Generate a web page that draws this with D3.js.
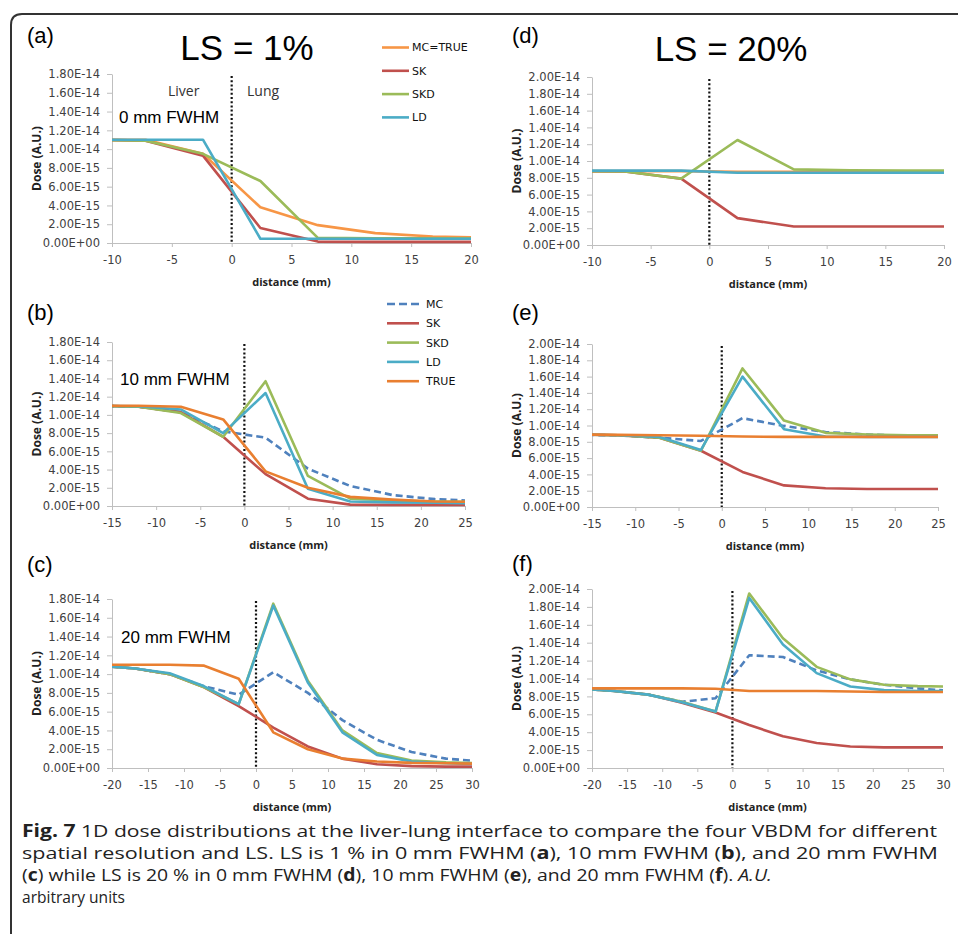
<!DOCTYPE html>
<html>
<head>
<meta charset="utf-8">
<script src="https://cdn.jsdelivr.net/npm/d3@7"></script>
<style>
  body { margin: 0; background: #fff; }
  svg { display: block; }
  .tick text { font-family: 'DejaVu Sans', sans-serif; font-size: 11.5px; fill: #404040; }
  .domain, .tick line { stroke: #bfbfbf; }
</style>
</head>
<body>
<svg id="chart" width="958" height="934"></svg>
<script>
// dose values are in units of 1E-15 (A.U.)
const UNIT = 1e-15;

// sample positions (mm), voxel centres
const xGrid10 = [-12, -7.2, -2.4, 2.4, 7.2, 12, 16.8, 21.6];
const xGrid15 = [-16.8, -12, -7.2, -2.4, 2.4, 7.2, 12, 16.8, 21.6, 26.4];
const xGrid20 = [-21.6, -16.8, -12, -7.2, -2.4, 2.4, 7.2, 12, 16.8, 21.6, 26.4, 31.2];

// (a) LS = 1%, 0 mm FWHM
const aMC = [11.0, 11.0, 9.5, 3.8, 1.9, 1.05, 0.7, 0.55];
const aSK = [11.0, 10.9, 9.3, 1.6, 0.15, 0.12, 0.12, 0.12];
const aSKD = [11.0, 10.9, 9.5, 6.6, 0.55, 0.5, 0.5, 0.5];
const aLD = [11.0, 11.0, 11.0, 0.45, 0.45, 0.45, 0.45, 0.45];

// (b) LS = 1%, 10 mm FWHM
const bMC = [11.0, 10.9, 10.3, 8.2, 7.5, 4.1, 2.2, 1.2, 0.75, 0.55];
const bSK = [11.0, 10.9, 10.3, 7.6, 3.5, 0.8, 0.15, 0.12, 0.12, 0.12];
const bSKD = [11.0, 10.9, 10.2, 7.6, 13.7, 3.3, 0.8, 0.6, 0.5, 0.45];
const bLD = [11.0, 10.95, 10.6, 8.0, 12.4, 1.9, 0.5, 0.4, 0.35, 0.3];
const bTRUE = [11.0, 11.0, 10.9, 9.5, 3.8, 2.0, 1.0, 0.7, 0.5, 0.45];

// (c) LS = 1%, 20 mm FWHM
const cMC = [10.9, 10.6, 10.0, 8.7, 7.8, 10.2, 8.0, 5.1, 3.0, 1.7, 1.0, 0.7];
const cSK = [10.9, 10.6, 10.0, 8.6, 6.6, 4.3, 2.3, 1.0, 0.4, 0.2, 0.15, 0.15];
const cSKD = [10.9, 10.6, 10.0, 8.6, 6.8, 17.5, 9.3, 4.0, 1.6, 0.8, 0.6, 0.5];
const cLD = [10.9, 10.6, 10.1, 8.7, 6.8, 17.3, 9.1, 3.8, 1.4, 0.7, 0.5, 0.4];
const cTRUE = [11.0, 11.0, 11.0, 10.9, 9.5, 3.8, 2.0, 1.0, 0.7, 0.55, 0.5, 0.45];

// (d) LS = 20%, 0 mm FWHM
const dMC = [8.8, 8.8, 8.8, 8.7, 8.7, 8.7, 8.7, 8.7];
const dSK = [8.8, 8.75, 7.9, 3.2, 2.2, 2.2, 2.2, 2.2];
const dSKD = [8.8, 8.75, 7.9, 12.5, 9.0, 8.9, 8.85, 8.85];
const dLD = [8.85, 8.85, 8.85, 8.6, 8.6, 8.6, 8.6, 8.6];

// (e) LS = 20%, 10 mm FWHM
const eMC = [8.85, 8.8, 8.5, 8.1, 10.9, 9.95, 9.2, 8.9, 8.7, 8.6];
const eSK = [8.9, 8.8, 8.5, 6.9, 4.3, 2.65, 2.3, 2.2, 2.2, 2.2];
const eSKD = [8.9, 8.8, 8.5, 6.9, 17.0, 10.6, 9.1, 8.9, 8.8, 8.8];
const eLD = [8.9, 8.8, 8.6, 7.0, 16.0, 9.55, 8.65, 8.6, 8.6, 8.6];
const eTRUE = [8.9, 8.85, 8.8, 8.75, 8.65, 8.6, 8.6, 8.6, 8.6, 8.6];

// (f) LS = 20%, 20 mm FWHM
const fMC = [8.85, 8.6, 8.2, 7.4, 7.8, 12.6, 12.4, 10.9, 9.9, 9.3, 8.9, 8.6];
const fSK = [8.85, 8.6, 8.2, 7.3, 6.2, 4.8, 3.55, 2.8, 2.4, 2.3, 2.3, 2.3];
const fSKD = [8.85, 8.6, 8.2, 7.4, 6.3, 19.5, 14.5, 11.3, 9.9, 9.3, 9.15, 9.1];
const fLD = [8.85, 8.6, 8.2, 7.35, 6.3, 19.0, 13.8, 10.6, 9.1, 8.7, 8.6, 8.6];
const fTRUE = [8.9, 8.9, 8.9, 8.9, 8.85, 8.6, 8.6, 8.6, 8.55, 8.5, 8.5, 8.5];

const legendA = ['MC=TRUE', 'SK', 'SKD', 'LD'];
const legendB = ['MC', 'SK', 'SKD', 'LD', 'TRUE'];

const captionLines = [
    '1D dose distributions at the liver-lung interface to compare the four VBDM for different',
    'spatial resolution and LS. LS is 1 % in 0 mm FWHM (a), 10 mm FWHM (b), and 20 mm FWHM',
    '(c) while LS is 20 % in 0 mm FWHM (d), 10 mm FWHM (e), and 20 mm FWHM (f). A.U.',
    'arbitrary units',
];

const styles = {
    MC: { color: '#4f81bd', dash: '7,4' },
    'MC=TRUE': { color: '#f79646' },
    SK: { color: '#c0504d' },
    SKD: { color: '#9bbb59' },
    LD: { color: '#4bacc6' },
    TRUE: { color: '#e97f30' },
};

const svg = d3.select('#chart');

function fmtE(v) {
    var val = v * UNIT;
    if (Math.abs(v) < 1e-9) return '0.00E+00';
    var parts = val.toExponential(2).split('e');
    var n = +parts[1];
    return parts[0] + 'E' + (n < 0 ? '-' : '+') + String(Math.abs(n)).padStart(2, '0');
}

const panels = [
    { id: 'a', xs: xGrid10, xDomain: [-10, 20], yMax: 18, box: [112, 471, 74, 243],
      series: [['MC=TRUE', aMC], ['SK', aSK], ['SKD', aSKD], ['LD', aLD]] },
    { id: 'b', xs: xGrid15, xDomain: [-15, 25], yMax: 18, box: [112, 465, 342, 506],
      series: [['MC', bMC], ['SK', bSK], ['SKD', bSKD], ['LD', bLD], ['TRUE', bTRUE]] },
    { id: 'c', xs: xGrid20, xDomain: [-20, 30], yMax: 18, box: [112, 472, 599, 768],
      series: [['MC', cMC], ['SK', cSK], ['SKD', cSKD], ['LD', cLD], ['TRUE', cTRUE]] },
    { id: 'd', xs: xGrid10, xDomain: [-10, 20], yMax: 20, box: [592, 944, 77, 245],
      series: [['MC=TRUE', dMC], ['SK', dSK], ['SKD', dSKD], ['LD', dLD]] },
    { id: 'e', xs: xGrid15, xDomain: [-15, 25], yMax: 20, box: [592, 938, 344, 507],
      series: [['MC', eMC], ['SK', eSK], ['SKD', eSKD], ['LD', eLD], ['TRUE', eTRUE]] },
    { id: 'f', xs: xGrid20, xDomain: [-20, 30], yMax: 20, box: [592, 943, 589, 768],
      series: [['MC', fMC], ['SK', fSK], ['SKD', fSKD], ['LD', fLD], ['TRUE', fTRUE]] },
];

function drawPanel(p) {
    var [left, right, top, bottom] = p.box;
    var x = d3.scaleLinear().domain(p.xDomain).range([left, right]);
    var y = d3.scaleLinear().domain([0, p.yMax]).range([bottom, top]);
    var g = svg.append('g').attr('id', 'panel_' + p.id);

    g.append('g')
        .attr('transform', 'translate(' + left + ',0)')
        .call(d3.axisLeft(y).tickValues(d3.range(0, p.yMax + 1, 2)).tickSize(5).tickSizeOuter(0).tickPadding(7).tickFormat(fmtE));
    g.append('g')
        .attr('transform', 'translate(0,' + bottom + ')')
        .call(d3.axisBottom(x).tickValues(d3.range(p.xDomain[0], p.xDomain[1] + 1, 5)).tickSize(4).tickSizeOuter(0).tickPadding(9).tickFormat((d) => String(d)));

    g.append('clipPath').attr('id', 'clip_' + p.id)
        .append('rect').attr('x', left).attr('y', top - 20).attr('width', right - left).attr('height', bottom - top + 22);

    // liver / lung interface
    g.append('line')
        .attr('x1', x(0)).attr('x2', x(0))
        .attr('y1', y(p.yMax) + 2).attr('y2', bottom)
        .attr('stroke', '#111').attr('stroke-width', 2.2).attr('stroke-dasharray', '2,2.2');

    var line = d3.line().x((d) => x(d[0])).y((d) => y(d[1]));
    g.append('g').attr('clip-path', 'url(#clip_' + p.id + ')')
        .selectAll('path')
        .data(p.series)
        .join('path')
        .attr('d', (s) => line(p.xs.map((xv, i) => [xv, s[1][i]])))
        .attr('fill', 'none')
        .attr('stroke', (s) => styles[s[0]].color)
        .attr('stroke-width', 2.6)
        .attr('stroke-linejoin', 'round')
        .attr('stroke-dasharray', (s) => styles[s[0]].dash || null);

    g.append('text')
        .attr('transform', 'translate(' + (left - 71) + ',' + (top + bottom) / 2 + ') rotate(-90)')
        .attr('text-anchor', 'middle')
        .style('font-family', "'Open Sans', sans-serif").style('font-weight', 700).style('font-size', '12px')
        .attr('fill', '#222')
        .text('Dose (A.U.)');
    g.append('text')
        .attr('x', (left + right) / 2).attr('y', bottom + 43)
        .attr('text-anchor', 'middle')
        .style('font-family', "'Open Sans', sans-serif").style('font-weight', 700).style('font-size', '11px')
        .attr('fill', '#222')
        .text('distance (mm)');
    return { x, y };
}

panels.forEach(drawPanel);

// panel letters
const letterPos = { a: [27, 43], b: [27, 320], c: [27, 572], d: [512, 43], e: [512, 320], f: [512, 571] };
Object.entries(letterPos).forEach(([k, pos]) => {
    svg.append('text').attr('x', pos[0]).attr('y', pos[1])
        .style('font-family', "'Liberation Sans', Arial, sans-serif").style('font-size', '22px')
        .text('(' + k + ')');
});

function bigText(txt, xp, yp, size, anchor) {
    svg.append('text').attr('x', xp).attr('y', yp)
        .attr('text-anchor', anchor || 'start')
        .style('font-family', "'Liberation Sans', Arial, sans-serif").style('font-size', size + 'px')
        .text(txt);
}
bigText('LS = 1%', 247, 60, 35, 'middle');
bigText('LS = 20%', 731, 61, 35, 'middle');
bigText('0 mm FWHM', 119, 123, 17);
bigText('10 mm FWHM', 120, 385, 17);
bigText('20 mm FWHM', 121, 643, 17);

svg.append('text').attr('x', 168).attr('y', 96)
    .style('font-family', "'Open Sans', sans-serif").style('font-size', '14px').attr('fill', '#333').text('Liver');
svg.append('text').attr('x', 247).attr('y', 96)
    .style('font-family', "'Open Sans', sans-serif").style('font-size', '14px').attr('fill', '#333').text('Lung');

function drawLegend(names, x0, y0, step, len) {
    var lg = svg.append('g').selectAll('g').data(names).join('g')
        .attr('transform', (d, i) => 'translate(' + x0 + ',' + (y0 + i * step) + ')');
    lg.append('line').attr('x1', 0).attr('x2', len).attr('y1', 0).attr('y2', 0)
        .attr('stroke', (d) => styles[d].color).attr('stroke-width', 2.6)
        .attr('stroke-dasharray', (d) => (styles[d].dash ? '8,4' : null));
    lg.append('text').attr('x', len + (styles[names[0]].dash ? 7 : 3)).attr('dy', '0.36em')
        .style('font-family', "'DejaVu Sans', sans-serif").style('font-size', '11px').attr('fill', '#111')
        .text((d) => d);
}
drawLegend(legendA, 382, 47.5, 23.3, 27);
drawLegend(legendB, 387, 304, 19.3, 32);

// frame round the figure
svg.append('path')
    .attr('d', 'M11,934 V25 Q11,14 22,14 H958')
    .attr('fill', 'none').attr('stroke', '#333').attr('stroke-width', 2);

// caption
const cap = svg.append('g')
    .style('font-family', "'Open Sans', sans-serif").style('font-size', '17px').attr('fill', '#222');
const capY = [837, 859, 881, 903];
const capEnd = [937, 938, 772, 125];
captionLines.forEach((ln, i) => {
    var t = cap.append('text').attr('x', 22).attr('y', capY[i]);
    if (i == 0) {
        t.append('tspan').style('font-weight', 700).text('Fig. 7');
        t.append('tspan').text(' ' + ln);
    } else {
        // bold panel letters, italic A.U.
        var parts = ln.split(/(\([a-f]\)|A\.U\.)/);
        parts.forEach((s) => {
            if (!s) return;
            var m = s.match(/^\(([a-f])\)$/);
            if (m) {
                t.append('tspan').text('(');
                t.append('tspan').style('font-weight', 700).text(m[1]);
                t.append('tspan').text(')');
            } else if (s == 'A.U.') {
                t.append('tspan').style('font-style', 'italic').text(s);
            } else {
                t.append('tspan').text(s);
            }
        });
    }
    if (capEnd[i]) t.attr('textLength', capEnd[i] - 22).attr('lengthAdjust', 'spacingAndGlyphs');
});
</script>
</body>
</html>
